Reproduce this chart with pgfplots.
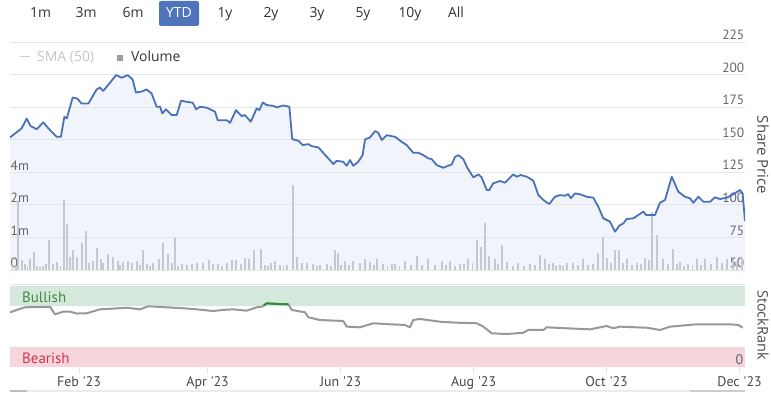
\documentclass[border=0pt]{standalone}
\usepackage{pgfplots}
\pgfplotsset{compat=1.18}
\usepackage{pgfplotstable}
\usepackage{fontspec}
\setmainfont{Open Sans}
\newfontfamily\pts{PT Sans}
\definecolor{pblue}{HTML}{4A72B8}
\definecolor{pfill}{HTML}{F2F4FB}
\definecolor{gridc}{HTML}{E6E6E6}
\definecolor{tickc}{HTML}{666666}
\definecolor{volc}{HTML}{C6C8CF}
\definecolor{bullf}{HTML}{D5E8DC}
\definecolor{bearf}{HTML}{F6D6DC}
\definecolor{bullt}{HTML}{3C8B3F}
\definecolor{beart}{HTML}{D2344F}
\definecolor{rankc}{HTML}{989898}
\definecolor{rankg}{HTML}{2E8B3A}
\definecolor{ytd}{HTML}{4F74BA}

\pgfplotstableread{
x y
0.35 151.8
5.7 158.7
8.0 166.3
9.8 160.4
12.6 158.1
15.6 163.3
18.7 157.4
21.8 152.2
23.7 152.2
25.3 167.6
26.4 166.3
29.1 182.4
31.2 181.6
33.2 177.8
36.3 177.8
40.1 188.6
41.6 190.1
43.1 187.5
46.2 193.7
49.0 199.6
51.6 197.6
54.3 199.6
56.6 196.3
58.1 186.2
60.8 187.0
63.0 188.6
65.3 185.5
67.6 175.3
69.2 175.3
70.2 170.2
71.9 173.3
74.5 168.9
76.8 168.9
78.8 179.9
81.1 179.2
84.2 178.4
85.7 173.3
87.5 175.3
90.6 174.6
94.4 171.5
95.6 165.0
99.8 165.0
101.3 163.0
104.0 172.7
106.6 168.1
108.1 168.9
110.8 163.8
113.5 174.0
114.7 172.7
116.3 178.6
118.1 176.6
121.1 176.0
122.7 174.8
125.7 176.3
128.5 175.3
129.8 150.5
132.6 149.2
134.6 145.9
137.2 146.6
138.7 145.1
141.8 144.1
148.7 131.3
150.2 133.8
153.2 133.1
154.8 130.0
156.3 134.4
157.8 130.0
160.1 133.1
162.1 138.2
163.2 150.2
165.5 151.8
167.8 156.6
169.3 155.3
170.9 149.7
173.1 153.5
177.0 152.2
180.0 148.4
182.3 145.9
185.3 140.0
187.6 140.0
189.9 138.2
192.2 135.7
193.8 135.1
196.1 130.5
199.1 128.5
203.0 131.1
204.5 136.9
206.0 138.2
208.3 135.1
210.1 128.5
212.9 121.1
215.2 123.4
216.7 121.1
219.0 111.4
220.2 111.4
222.0 116.5
225.1 118.3
227.4 117.0
231.2 123.4
232.8 121.6
234.6 122.9
237.4 121.6
240.4 118.5
242.7 107.5
245.0 103.7
247.7 100.6
250.3 106.2
252.6 107.5
254.9 107.0
256.4 108.3
257.6 105.0
259.5 108.8
261.8 108.1
264.9 106.2
267.9 105.5
270.2 98.6
272.5 89.7
275.6 87.1
277.9 79.4
279.8 84.0
281.7 85.8
283.2 89.1
286.3 89.7
290.9 94.8
292.1 92.2
296.2 92.2
298.5 101.6
300.8 103.7
303.9 121.6
306.9 110.1
310.0 106.2
312.3 105.0
313.8 101.6
316.1 106.2
318.4 102.4
321.5 102.4
323.7 105.8
326.0 104.5
329.1 105.5
332.1 108.1
335.2 111.4
336.4 108.8
337.5 87.5
}\price

\pgfplotstableread{
x v
1.5 0.20
2.9 0.15
4.02 2.83
5.85 0.39
7.23 0.23
8.4 0.15
9.52 0.45
11.36 0.72
12.7 0.18
14.11 0.13
15.5 0.15
16.86 0.23
18.24 1.23
20.07 0.23
21.9 0.32
23.5 0.15
25.12 2.87
26.49 1.87
27.87 0.52
29.25 0.83
31.08 0.52
33.37 1.12
35.21 1.59
36.58 0.29
38.4 0.36
40.25 0.92
42.09 0.43
43.0 0.29
45.3 0.67
47.6 0.52
49.9 0.36
51.0 0.20
52.2 0.32
54.5 0.36
56.3 0.29
58.6 0.36
60.0 0.20
61.4 0.83
63.2 0.23
64.6 0.15
66.0 0.27
68.7 0.45
70.5 1.12
72.8 0.67
74.7 0.29
76.0 1.32
77.6 0.18
79.2 0.23
81.5 0.20
83.8 0.23
86.1 0.27
88.9 0.29
91.6 0.40
93.5 0.23
95.8 0.25
97.8 0.18
99.9 0.29
102.2 0.39
104.0 0.40
106.3 0.23
108.1 0.49
110.0 0.43
112.3 0.80
115.5 0.85
117.3 0.19
118.8 0.15
120.1 0.29
121.9 0.36
124.2 0.19
125.8 0.15
127.4 0.19
130.2 3.49
132.0 0.53
134.3 0.29
136.6 0.29
139.3 0.23
141.0 0.15
142.5 0.20
145.7 0.23
147.6 0.18
149.4 0.80
150.8 0.69
152.3 0.20
154.0 0.36
155.9 0.20
157.7 0.36
160.9 0.29
163.2 0.43
165.5 0.32
167.2 0.20
168.7 0.43
171.4 0.23
173.5 0.18
175.6 0.23
177.0 0.25
179.0 0.18
181.5 0.36
184.2 0.20
187.0 0.56
189.5 0.20
192.1 0.43
195.3 0.20
198.5 0.36
200.3 0.20
202.2 0.36
204.5 0.18
206.8 0.23
208.6 0.25
210.4 0.47
212.5 0.30
214.6 1.23
216.4 0.96
218.2 1.92
220.1 0.56
222.8 0.43
224.4 0.25
226.0 1.03
228.3 0.32
231.0 0.18
233.4 0.29
236.0 0.18
238.9 0.23
241.2 0.20
243.5 0.63
245.8 0.43
247.6 0.25
249.4 0.29
251.0 0.18
252.6 0.20
254.2 0.18
255.8 0.29
258.6 0.29
261.0 0.20
263.2 0.43
265.5 0.20
267.8 0.23
270.1 0.69
272.4 1.36
274.2 0.49
276.0 0.30
277.9 0.83
279.7 0.83
281.5 0.30
283.4 0.43
285.7 0.20
288.0 0.29
289.8 0.25
291.6 0.49
293.3 0.40
294.8 2.36
297.1 1.43
299.9 0.43
302.2 0.25
304.5 0.85
306.1 0.25
307.7 0.32
309.5 0.18
311.4 0.23
313.4 0.20
315.5 0.45
317.3 0.20
319.1 0.45
322.0 0.25
324.6 0.53
327.0 0.30
329.2 0.45
332.0 0.43
334.0 0.30
336.1 0.49
}\vol

\pgfplotstableread{
x r
0.35 67.5
3.5 70.5
7.2 73.7
12.0 74.0
18.7 74.4
21.0 65.0
24.8 68.3
27.9 68.3
31.0 66.0
35.5 66.3
41.6 71.2
47.0 72.0
53.9 73.2
60.0 71.2
63.8 75.0
72.2 73.7
80.0 72.5
86.0 71.2
93.6 69.1
98.0 70.5
102.8 71.2
108.9 69.5
113.5 73.7
116.0 74.5
118.1 78.6
123.4 77.8
128.0 77.4
129.6 70.4
135.7 67.5
137.2 61.4
142.5 58.0
153.2 56.8
154.8 49.8
160.9 49.0
167.0 54.0
174.7 52.7
181.5 51.9
183.8 49.0
185.3 58.0
188.4 59.3
197.6 55.9
205.2 54.7
214.4 54.0
217.5 49.8
221.3 41.6
228.2 40.7
235.8 42.3
238.1 45.7
245.0 45.7
246.5 49.0
255.7 47.8
266.4 46.5
274.0 50.6
277.1 47.8
280.1 49.8
292.4 48.5
298.5 45.7
303.1 49.8
315.3 52.7
330.6 52.7
334.4 51.9
336.4 48.5
}\rank

\pgfplotstableread{
x r
116.8 76.0
118.1 78.6
123.4 77.8
128.0 77.4
}\rankgreen

\pgfplotsset{
  panel/.style={at={(10bp,123bp)}, anchor=south west, scale only axis,
    width=735bp, height=228bp, xmin=0.35, xmax=337.5},
}

\begin{document}
\begin{tikzpicture}
\path[use as bounding box] (0bp,0bp) rectangle (771bp,393bp);
\fill[white] (0bp,0bp) rectangle (771bp,393bp);

% range selector
\fill[ytd, rounded corners=2bp] (159bp,367bp) rectangle (199bp,392bp);
\begin{scope}[every node/.style={font=\fontsize{14}{14}\selectfont, text=black!80, anchor=base}]
\node at (40.5bp,375bp) {1m};
\node at (86bp,375bp) {3m};
\node at (133bp,375bp) {6m};
\node[text=white] at (179bp,375bp) {YTD};
\node at (225bp,375bp) {1y};
\node at (271bp,375bp) {2y};
\node at (317bp,375bp) {3y};
\node at (363bp,375bp) {5y};
\node at (410bp,375bp) {10y};
\node at (456bp,375bp) {All};
\end{scope}

% legend
\draw[black!20, line width=1bp] (20bp,336.5bp) -- (30bp,336.5bp);
\node[anchor=base west, font=\fontsize{14}{14}\selectfont, text=black!22, inner sep=0] at (37bp,331.5bp) {SMA (50)};
\fill[black!38] (116.5bp,331.5bp) rectangle (122.5bp,337.5bp);
\node[anchor=base west, font=\fontsize{14}{14}\selectfont, text=black!80, inner sep=0] at (131bp,331.5bp) {Volume};

% price area fill
\begin{axis}[panel, ymin=50, ymax=225, hide axis]
\addplot[draw=none, fill=pfill] table[x=x, y=y] {\price} \closedcycle;
\end{axis}

% price grid and labels
\begin{axis}[panel, ymin=50, ymax=225, ytick={50,75,...,225},
  ymajorgrids, grid style={draw=gridc, line width=0.9bp},
  xtick=\empty, axis line style={draw=none}, major tick length=0,
  yticklabel pos=right,
  yticklabel style={anchor=south east, inner sep=0.5bp, yshift=1.5bp,
    font=\pts\fontsize{13.5}{13.5}\selectfont, text=tickc},
  /pgf/number format/assume math mode=true]
\addplot[draw=none] coordinates {(100,100)};
\end{axis}

% volume
\begin{axis}[panel, ymin=0, ymax=9.3333, ytick={0,1.3333,2.6667,4},
  yticklabels={0,1m,2m,4m},
  xtick=\empty, axis line style={draw=none}, major tick length=0,
  yticklabel pos=left,
  yticklabel style={anchor=south west, inner sep=0.5bp, yshift=1.5bp,
    font=\pts\fontsize{13.5}{13.5}\selectfont, text=tickc}]
\addplot[ycomb, draw=volc, line width=1.9bp] table[x=x, y=v] {\vol};
\end{axis}

% price line
\begin{axis}[panel, ymin=50, ymax=225, hide axis]
\addplot[pblue, line width=1.8bp, line join=round] table[x=x, y=y] {\price};
\end{axis}

% stockrank panel
\draw[gridc, line width=0.8bp] (10bp,108.5bp) -- (745bp,108.5bp);
\begin{axis}[at={(10bp,26bp)}, anchor=south west, scale only axis,
  width=735bp, height=81bp, xmin=0.35, xmax=337.5, ymin=0, ymax=100,
  axis on top,
  axis line style={draw=none},
  xtick={32,91,152,213,274,335},
  xticklabels={Feb \textquotesingle23, Apr \textquotesingle23, Jun \textquotesingle23, Aug \textquotesingle23, Oct \textquotesingle23, Dec \textquotesingle23},
  xtick pos=bottom, tick align=outside, major tick length=7bp,
  xtick style={draw=gridc, line width=0.9bp},
  xticklabel style={font=\pts\fontsize{14}{14}\selectfont, text=black!72, yshift=1bp},
  ytick={0}, ytick style={draw=none}, yticklabel pos=right,
  yticklabel style={anchor=south east, inner sep=0.5bp, yshift=2bp, xshift=-8bp,
    font=\pts\fontsize{14}{14}\selectfont, text=tickc},
  /pgf/number format/assume math mode=true]
\addplot[draw=none, fill=bullf] coordinates {(0.35,75) (337.5,75) (337.5,100) (0.35,100)} -- cycle;
\addplot[draw=none, fill=bearf] coordinates {(0.35,0) (337.5,0) (337.5,25) (0.35,25)} -- cycle;
\addplot[rankc, line width=2bp, line join=round] table[x=x, y=r] {\rank};
\addplot[rankg, line width=2bp, line join=round] table[x=x, y=r] {\rankgreen};
\end{axis}

\node[anchor=base west, font=\pts\fontsize{15}{15}\selectfont, text=bullt, inner sep=0] at (22bp,90bp) {Bullish};
\node[anchor=base west, font=\pts\fontsize{15}{15}\selectfont, text=beart, inner sep=0] at (22bp,30bp) {Bearish};

% right titles
\node[rotate=-90, font=\fontsize{15}{15}\selectfont, text=black!70] at (763bp,238bp) {Share Price};
\node[rotate=-90, font=\fontsize{14.5}{14.5}\selectfont, text=black!70] at (763bp,68bp) {StockRank};

% navigator line
\draw[black!8, line width=1.2bp] (10bp,2bp) -- (745bp,2bp);
\draw[black!25, line width=1.2bp] (10bp,2bp) -- (27bp,2bp);
\draw[black!20, line width=1.2bp] (690bp,2bp) -- (745bp,2bp);
\end{tikzpicture}
\end{document}
